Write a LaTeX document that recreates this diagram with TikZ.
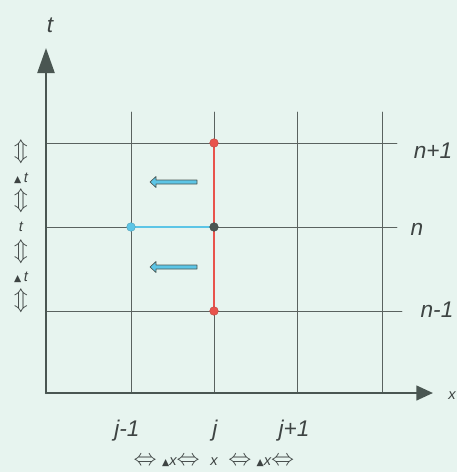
\documentclass[tikz,border=0pt]{standalone}
\usepackage{fontspec}
\setmainfont{Liberation Sans}
\newfontfamily\symfont{DejaVu Sans}
\usetikzlibrary{arrows.meta}
\definecolor{bgmint}{HTML}{E7F4EF}
\definecolor{axisgray}{HTML}{4A5652}
\definecolor{gridgray}{HTML}{5A625F}
\definecolor{ptred}{HTML}{E8534C}
\definecolor{ptblue}{HTML}{5CC5E6}
\definecolor{labelgray}{HTML}{3E4443}
\newcommand{\udarrow}{{\fontsize{16}{16}\selectfont$\Updownarrow$}}
\newcommand{\lrarrow}{{\fontsize{17}{17}\selectfont$\Leftrightarrow$}}
\newcommand{\deltamark}{{\symfont\fontsize{7}{7}\selectfont\upshape ▲}}
\tikzset{
  axisline/.style={line width=1.8pt,draw=axisgray},
  gridline/.style={line width=0.6pt,draw=gridgray},
  lbl/.style={text=labelgray,font=\fontsize{17}{19}\selectfont\itshape,inner sep=0pt},
  smalllbl/.style={text=labelgray,font=\fontsize{11}{13}\selectfont\itshape,inner sep=0pt},
  dot/.style={circle,inner sep=0pt,minimum size=6.5pt,draw=#1!80!black,fill=#1,line width=0.3pt},
  flowarrow/.style={fill=ptblue,draw=axisgray,line width=0.5pt}
}
\begin{document}
\begin{tikzpicture}[x=0.75pt,y=-0.75pt,line cap=round,line join=round]
    \fill[bgmint] (0,0) rectangle (457,472);
    \useasboundingbox (0,0) rectangle (457,472);
    % axes
    \coordinate (origin) at (46,393);
    \coordinate (ttip) at (46,48);
    \coordinate (xtip) at (433,393);
    % grid
    \foreach \gx in {131,214,297,382}
      \draw[gridline] (\gx,112) -- (\gx,393);
    \draw[gridline] (46,143) -- (397,143);
    \draw[gridline] (46,227) -- (397,227);
    \draw[gridline] (46,311) -- (402,311);
    \draw[axisline,-{Triangle[length=18.75pt,width=12.75pt]}] (origin) -- (ttip);
    \draw[axisline,-{Triangle[length=12.5pt,width=11pt]}] (origin) -- (xtip);
    \node[lbl] (tlabel) at (50,25) {t};
    \node[smalllbl] (xlabel) at (452,396) {x};
    % stencil points
    \coordinate (up) at (214,143);
    \coordinate (mid) at (214,227);
    \coordinate (down) at (214,311);
    \coordinate (left) at (131,227);
    \draw[ptred,line width=1.6pt] (up) -- (down);
    \draw[ptblue,line width=1.6pt] (left) -- (mid);
    \node[dot=ptred] (pup) at (up) {};
    \node[dot=ptred] (pdown) at (down) {};
    \node[dot=axisgray] (pmid) at (mid) {};
    \node[dot=ptblue] (pleft) at (left) {};
    % flow arrows
    \foreach \ya in {182,267}
      \draw[flowarrow] (197,\ya-2) -- (156,\ya-2) -- (156,\ya-5.5) -- (150,\ya)
        -- (156,\ya+5.5) -- (156,\ya+2) -- (197,\ya+2) -- cycle;
    % index labels
    \node[lbl] (np1) at (433,151) {n+1};
    \node[lbl] (n0) at (417,229) {n};
    \node[lbl] (nm1) at (437,310) {n-1};
    \node[lbl] (jm1) at (127,431) {j-1};
    \node[lbl] (j0) at (215,431) {j};
    \node[lbl] (jp1) at (294,431) {j+1};
    % step sizes
    \foreach \ly/\ltext [count=\li] in {152/\udarrow,178/{\deltamark\,t},201/\udarrow,227/t,
        252/\udarrow,277/{\deltamark\,t},301/\udarrow}
      \node[smalllbl] (dt\li) at (21,\ly) {\ltext};
    \node[smalllbl] (dx) at (214,462) {\lrarrow\hspace{4pt}\deltamark x\lrarrow\hspace{8pt}x\hspace{8pt}\lrarrow\hspace{4pt}\deltamark x\lrarrow};
  \end{tikzpicture}
\end{document}
